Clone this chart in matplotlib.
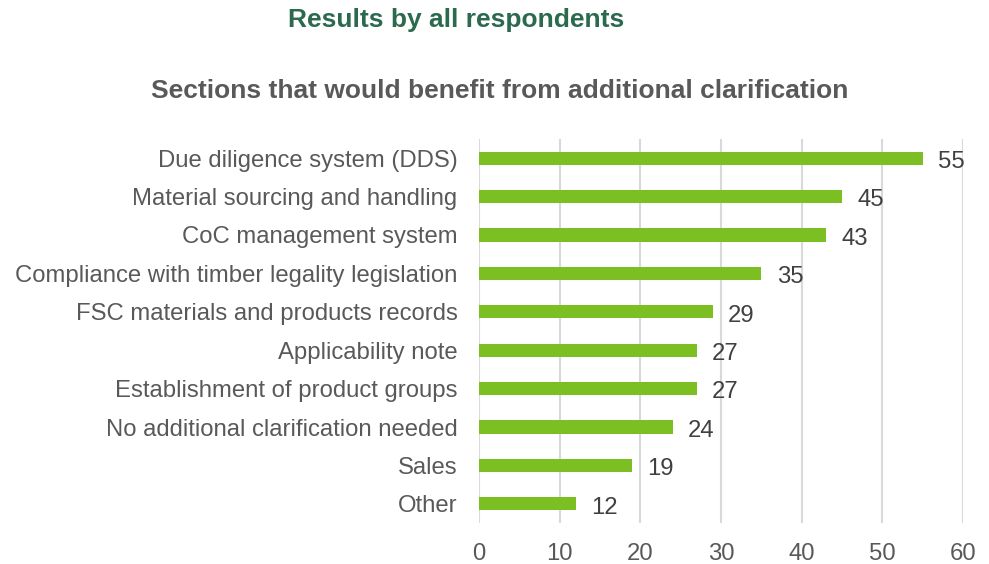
import matplotlib
matplotlib.use("Agg")
import matplotlib.pyplot as plt

plt.rcParams["font.family"] = ["Liberation Sans", "DejaVu Sans"]

categories = [
    "Due diligence system (DDS)",
    "Material sourcing and handling",
    "CoC management system",
    "Compliance with timber legality legislation",
    "FSC materials and products records",
    "Applicability note",
    "Establishment of product groups",
    "No additional clarification needed",
    "Sales",
    "Other",
]
values = [55, 45, 43, 35, 29, 27, 27, 24, 19, 12]
x_ticks = [0, 10, 20, 30, 40, 50, 60]

BAR_COLOR = "#7BBF22"
GRID_COLOR = "#D9D9D9"
TEXT_COLOR = "#595959"
TITLE_GREEN = "#2B6A4E"

fig = plt.figure(figsize=(9.89, 5.64), dpi=100)
ax = fig.add_axes([479 / 989, 1 - 523 / 564, 484 / 989, 384 / 564])

ypos = list(range(len(categories)))
ax.barh(ypos, values, height=0.34, color=BAR_COLOR, zorder=3)
for y, v in zip(ypos, values):
    ax.annotate(str(v), (v, y), xytext=(11, -1), textcoords="offset points",
                va="center_baseline", ha="left", fontsize=17.2, color="#404040")

ax.set_xlim(0, 60)
ax.set_ylim(len(categories) - 0.5, -0.5)
ax.set_yticks(ypos)
ax.set_yticklabels(categories, fontsize=17.2, color=TEXT_COLOR)
ax.set_xticks(x_ticks)
ax.set_xticklabels([str(t) for t in x_ticks], fontsize=17.2, color=TEXT_COLOR)
ax.tick_params(axis="both", length=0)
ax.tick_params(axis="y", pad=15.5)
ax.tick_params(axis="x", pad=14.5)

ax.grid(axis="x", color=GRID_COLOR, linewidth=1.5, zorder=0)
for spine in ax.spines.values():
    spine.set_visible(False)

fig.text(456 / 989, 1 - 20 / 564, "Results by all respondents", ha="center", va="center",
         fontsize=19, fontweight="bold", color=TITLE_GREEN)
fig.text(500 / 989, 1 - 91 / 564, "Sections that would benefit from additional clarification",
         ha="center", va="center", fontsize=19, fontweight="bold", color=TEXT_COLOR)

fig.savefig("out.png", dpi=100)
